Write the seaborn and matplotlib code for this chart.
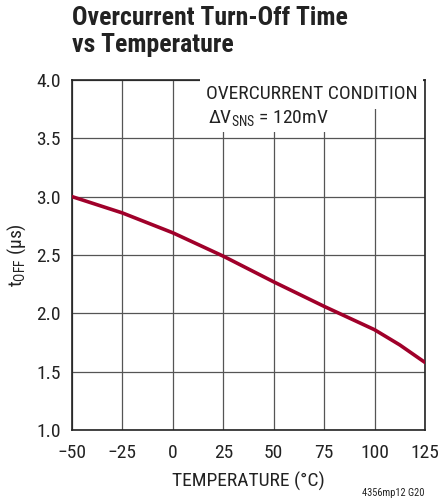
import pandas as pd
import seaborn as sns
import matplotlib.pyplot as plt

# values
temperature = [-50, -25, 0, 25, 50, 75, 100, 112.5, 125]
t_off = [3.00, 2.86, 2.69, 2.49, 2.27, 2.06, 1.86, 1.73, 1.58]

x_ticks = [-50, -25, 0, 25, 50, 75, 100, 125]
x_labels = ['\u221250', '\u221225', '0', '25', '50', '75', '100', '125']
y_ticks = [1.0, 1.5, 2.0, 2.5, 3.0, 3.5, 4.0]

sns.set_style('white')
plt.rcParams['font.family'] = ['Roboto Condensed', 'Archivo Narrow', 'DejaVu Sans']
plt.rcParams['mathtext.default'] = 'regular'

df = pd.DataFrame({'temp': temperature, 'toff': t_off})

fig = plt.figure(figsize=(4.39, 4.99), dpi=100)
ax = fig.add_axes([0.164, 0.138, 0.804, 0.702])

sns.lineplot(data=df, x='temp', y='toff', ax=ax, color='#a0002a', linewidth=2.6, zorder=3)

ax.set_xlim(-50, 125)
ax.set_ylim(1.0, 4.0)
ax.set_xticks(x_ticks)
ax.set_xticklabels(x_labels)
ax.set_yticks(y_ticks)
ax.set_yticklabels([f'{v:.1f}' for v in y_ticks])
ax.tick_params(length=0, labelsize=14, colors='#222222')
ax.tick_params(axis='x', pad=10)
ax.tick_params(axis='y', pad=8)
ax.grid(True, color='#555555', linewidth=0.9)
for s in ax.spines.values():
    s.set_color('#222222')
    s.set_linewidth(1.2)

ax.set_xlabel('TEMPERATURE (\u00b0C)', fontsize=14, color='#222222', labelpad=7)
ax.set_ylabel('t$_{OFF}$ (\u00b5s)', fontsize=14, color='#222222', labelpad=6)

# condition note, white box hides the grid behind it
ax.text(0.978, 0.985, 'OVERCURRENT CONDITION', transform=ax.transAxes, ha='right', va='top',
        fontsize=14, color='#222222', zorder=5,
        bbox=dict(facecolor='white', edgecolor='none', pad=4))
ax.text(0.385, 0.92, '\u0394V$_{SNS}$ = 120mV', transform=ax.transAxes, ha='left', va='top',
        fontsize=14, color='#222222', zorder=5,
        bbox=dict(facecolor='white', edgecolor='none', pad=3))

fig.text(0.164, 0.987, 'Overcurrent Turn-Off Time\nvs Temperature', ha='left', va='top',
         fontsize=18.5, fontweight='bold', color='#222222', linespacing=1.12)
fig.text(0.968, 0.003, '4356mp12 G20', ha='right', va='bottom', fontsize=7.5, color='#222222')

fig.savefig('out.png', dpi=100)
